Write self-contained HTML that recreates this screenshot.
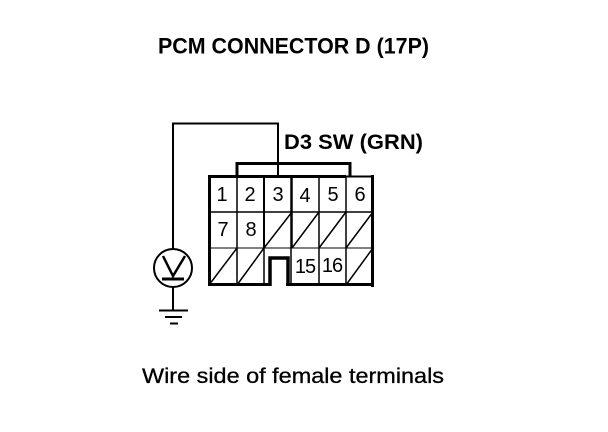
<!DOCTYPE html>
<html><head><meta charset="utf-8"><style>
html,body{margin:0;padding:0;background:#fff}
svg{display:block}
text{font-family:"Liberation Sans",sans-serif;fill:#000}
.n{font-size:20px;text-anchor:middle}
</style></head><body>
<svg width="608" height="432" viewBox="0 0 608 432" xmlns="http://www.w3.org/2000/svg">
<text x="158" y="53.500" style="font-size:22px;font-weight:bold" textLength="271" lengthAdjust="spacingAndGlyphs">PCM CONNECTOR D (17P)</text>
<text x="284" y="149" style="font-size:21px;font-weight:bold" textLength="139" lengthAdjust="spacingAndGlyphs">D3 SW (GRN)</text>
<text x="142" y="383" style="font-size:21px;stroke:#000;stroke-width:.3" textLength="302" lengthAdjust="spacingAndGlyphs">Wire side of female terminals</text>

<g fill="none" stroke="#000">
<path d="M173 249V123.500H278V176" stroke-width="2"/>
<path d="M237 177V163.500H350V177" stroke-width="3"/>
<!-- inner grid -->
<path d="M237 176V285M319 176V285M346 176V285M209 212H373" stroke-width="1.500"/>
<path d="M209 248H373" stroke-width="1"/>
<path d="M264 176V248" stroke-width="2"/>
<path d="M264 248V285" stroke-width="1.500"/>
<path d="M291.500 176V248" stroke-width="2.500"/>
<path d="M291 248V285" stroke-width="1.500"/>
<!-- outer -->
<path d="M270 284.500H209.500V176.500H346" stroke-width="3"/>
<path d="M346 176.500H372" stroke-width="2"/>
<path d="M372.500 175V287" stroke-width="3"/>
<path d="M286 284.500H372" stroke-width="3"/>
<path d="M270 286V258H288V286" stroke-width="3.500"/>
<!-- diagonals -->
<path d="M264 248L292 212M292 248L319 212M319 248L346 212M346 248L373 212M209 285L237 248M237 285L264 248M346 285L373 248" stroke-width="1.500"/>
<!-- meter -->
<circle cx="173" cy="268" r="19" stroke-width="2"/>
<path d="M163 256L173 276L185 256" stroke-width="2.500"/>
<path d="M162 279H184" stroke-width="3"/>
<path d="M173 287V310" stroke-width="2"/>
<path d="M159 310.500H188M165 317H182" stroke-width="2"/>
<path d="M170 323.500H178" stroke-width="2"/>
</g>

<text class="n" x="222" y="201">1</text>
<text class="n" x="250" y="201">2</text>
<text class="n" x="278" y="201">3</text>
<text class="n" x="305" y="202">4</text>
<text class="n" x="333" y="201">5</text>
<text class="n" x="360" y="201">6</text>
<text class="n" x="223" y="236">7</text>
<text class="n" x="251" y="236">8</text>
<text class="n" x="305" y="273" style="letter-spacing:-1px">15</text>
<text class="n" x="332" y="272" style="letter-spacing:-1px">16</text>
</svg>
</body></html>
